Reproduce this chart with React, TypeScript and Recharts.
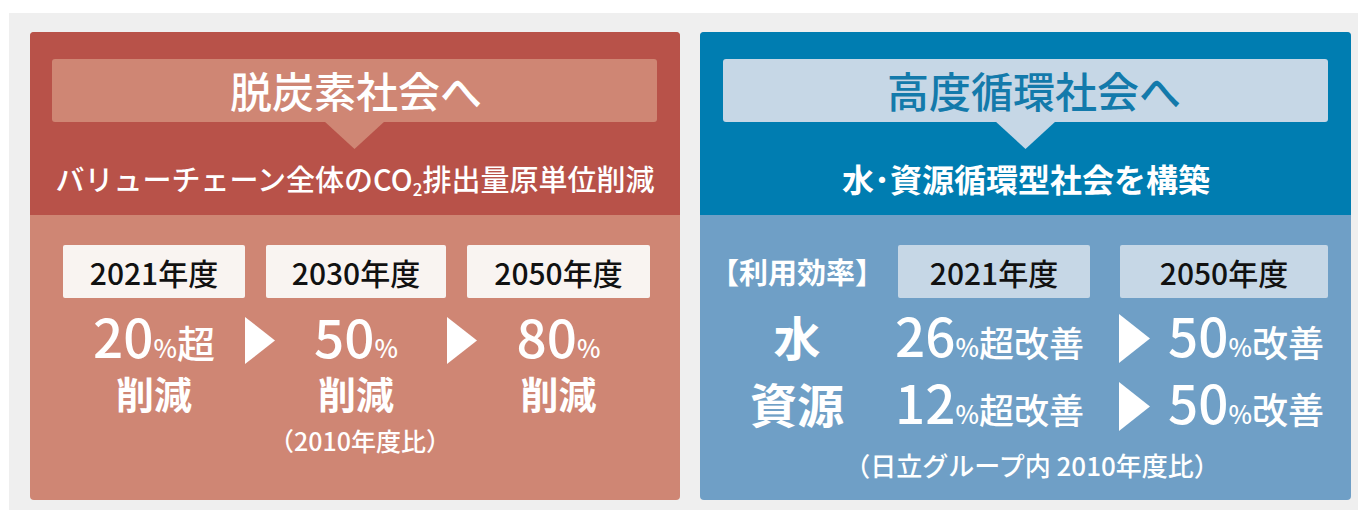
import { ComposedChart, XAxis, YAxis, ReferenceArea, ReferenceDot, Rectangle } from 'recharts';

const W = 1358;
const H = 510;
const FONT = "'Noto Sans CJK JP', 'Noto Sans', sans-serif";

// left panel: decarbonisation targets
const leftTitle = '脱炭素社会へ';
const leftYears = ['2021年度', '2030年度', '2050年度'];
const leftValues = [20, 50, 80];
const leftSuffix = ['超', '', ''];
const leftNote = '（2010年度比）';

// right panel: resource efficiency targets
const rightTitle = '高度循環社会へ';
const rightSubtitle = '水･資源循環型社会を構築';
const rightYears = ['2021年度', '2050年度'];
const rightRows = ['水', '資源'];
const right2021 = [26, 12];
const right2050 = [50, 50];
const rightNote = '（日立グループ内 2010年度比）';

type Part = { t: string; s: number; dy?: number };

const roundRect = (r: number | number[]) => (p: any) => (
  <Rectangle x={p.x} y={p.y} width={p.width} height={p.height} fill={p.fill} radius={r as any} />
);

const triDown = (p: any) => (
  <polygon
    points={`${p.x},${p.y} ${p.x + p.width},${p.y} ${p.x + p.width / 2},${p.y + p.height}`}
    fill={p.fill}
  />
);

const triRight = (p: any) => (
  <polygon
    points={`${p.x},${p.y} ${p.x + p.width},${p.y + p.height / 2} ${p.x},${p.y + p.height}`}
    fill={p.fill}
  />
);

function box(key: string, x1: number, x2: number, y1: number, y2: number, fill: string, shape: any) {
  return (
    <ReferenceArea
      key={key}
      x1={x1}
      x2={x2}
      y1={y1}
      y2={y2}
      fill={fill}
      fillOpacity={1}
      ifOverflow="visible"
      shape={shape}
    />
  );
}

function label(
  key: string,
  x: number,
  y: number,
  parts: Part[],
  fill: string,
  weight: number | string = 500,
  anchor: 'start' | 'middle' | 'end' = 'middle',
) {
  return (
    <ReferenceDot
      key={key}
      x={x}
      y={y}
      r={0}
      ifOverflow="visible"
      shape={(p: any) => (
        <text x={p.cx} y={p.cy} textAnchor={anchor} fill={fill} fontFamily={FONT} fontWeight={weight}>
          {parts.map((pt, i) => (
            <tspan key={i} fontSize={pt.s} dy={pt.dy ?? 0}>
              {pt.t}
            </tspan>
          ))}
        </text>
      )}
    />
  );
}

const leftBoxX = [
  [63, 245],
  [266, 446],
  [467, 650],
];
const leftArrowX = [
  [245, 275],
  [447, 477],
];
const rightBoxX = [
  [898, 1090],
  [1120, 1328],
];
const rowBase = [357, 424];
const rowArrowY = [
  [314, 363],
  [382, 431],
];

export default function App() {
  return (
    <div style={{ position: 'absolute', left: 0, top: 0, width: W, height: H, background: '#fff' }}>
      <ComposedChart width={W} height={H} margin={{ top: 0, right: 0, bottom: 0, left: 0 }} data={[]}>
        <XAxis type="number" dataKey="x" domain={[0, W]} hide allowDataOverflow />
        <YAxis type="number" domain={[0, H]} reversed hide allowDataOverflow />

        {box('bg', 9, W, 13, H, '#efefef', roundRect(0))}

        {/* left panel */}
        {box('lp', 30, 680, 32, 500, '#cf8674', roundRect(4))}
        {box('lpt', 30, 680, 32, 215, '#b85249', roundRect([4, 4, 0, 0]))}
        {box('ltb', 52, 657, 59, 122, '#cf8674', roundRect(3))}
        {box('ltri', 324, 385, 121, 149, '#cf8674', triDown)}
        {label('lt', 356, 108, [{ t: leftTitle, s: 42 }], '#fff', 500)}
        {label(
          'ls',
          355,
          191,
          [
            { t: 'バリューチェーン全体のCO', s: 29 },
            { t: '2', s: 17, dy: 5 },
            { t: '排出量原単位削減', s: 29, dy: -5 },
          ],
          '#fff',
          500,
        )}
        {leftYears.map((y, i) => box(`lyb${i}`, leftBoxX[i][0], leftBoxX[i][1], 245, 298, '#f9f4f1', roundRect(2)))}
        {leftYears.map((y, i) =>
          label(`lyt${i}`, (leftBoxX[i][0] + leftBoxX[i][1]) / 2, 285, [{ t: y, s: 30 }], '#111', 500),
        )}
        {leftValues.map((v, i) =>
          label(
            `lv${i}`,
            (leftBoxX[i][0] + leftBoxX[i][1]) / 2,
            358,
            [
              { t: String(v), s: 53 },
              { t: '%', s: 25 },
              { t: leftSuffix[i], s: 38 },
            ],
            '#fff',
            500,
          ),
        )}
        {leftValues.map((v, i) =>
          label(`lr${i}`, (leftBoxX[i][0] + leftBoxX[i][1]) / 2, 409, [{ t: '削減', s: 38 }], '#fff', 600),
        )}
        {leftArrowX.map((a, i) => box(`la${i}`, a[0], a[1], 317, 364, '#fff', triRight))}
        {label('ln', 360, 451, [{ t: leftNote, s: 25 }], '#fff', 500)}

        {/* right panel */}
        {box('rp', 700, 1351, 32, 500, '#6f9fc6', roundRect(4))}
        {box('rpt', 700, 1351, 32, 215, '#007db1', roundRect([4, 4, 0, 0]))}
        {box('rtb', 723, 1328, 59, 122, '#c6d7e6', roundRect(3))}
        {box('rtri', 995, 1056, 121, 149, '#c6d7e6', triDown)}
        {label('rt', 1034, 108, [{ t: rightTitle, s: 42 }], '#137aab', 500)}
        {label('rs', 1026, 192, [{ t: rightSubtitle, s: 32 }], '#fff', 700)}
        {label('rk', 797, 284, [{ t: '【利用効率】', s: 29 }], '#fff', 700)}
        {rightYears.map((y, i) => box(`ryb${i}`, rightBoxX[i][0], rightBoxX[i][1], 245, 298, '#c6d7e6', roundRect(2)))}
        {rightYears.map((y, i) =>
          label(`ryt${i}`, (rightBoxX[i][0] + rightBoxX[i][1]) / 2, 285, [{ t: y, s: 30 }], '#111', 500),
        )}
        {rightRows.map((r, i) => label(`rr${i}`, 797, rowBase[i] - 1, [{ t: r, s: 47 }], '#fff', 700))}
        {right2021.map((v, i) =>
          label(
            `r21${i}`,
            895,
            rowBase[i],
            [
              { t: String(v), s: 53 },
              { t: '%', s: 25 },
              { t: '超改善', s: 35 },
            ],
            '#fff',
            500,
            'start',
          ),
        )}
        {rowArrowY.map((a, i) => box(`ra${i}`, 1119, 1150, a[0], a[1], '#fff', triRight))}
        {right2050.map((v, i) =>
          label(
            `r50${i}`,
            1168,
            rowBase[i],
            [
              { t: String(v), s: 53 },
              { t: '%', s: 25 },
              { t: '改善', s: 36 },
            ],
            '#fff',
            500,
            'start',
          ),
        )}
        {label('rn', 1032, 476, [{ t: rightNote, s: 26 }], '#fff', 500)}
      </ComposedChart>
    </div>
  );
}
